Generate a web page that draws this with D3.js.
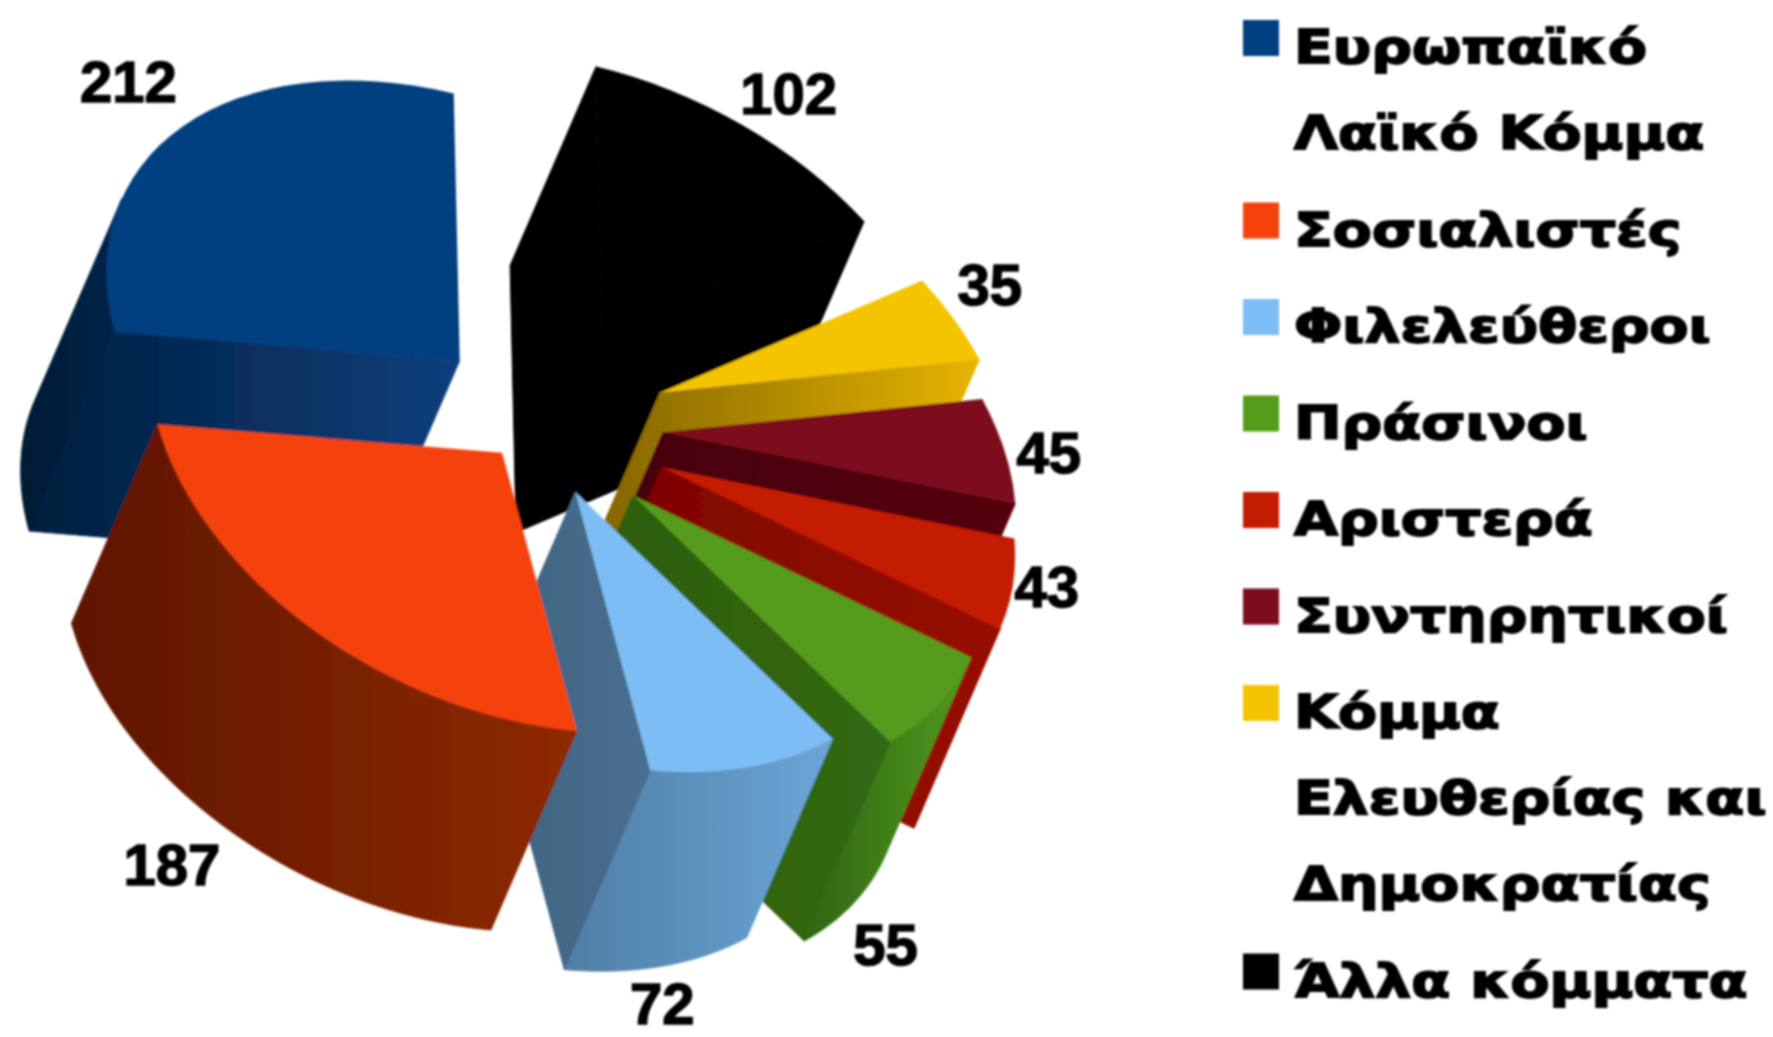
<!DOCTYPE html>
<html>
<head>
<meta charset="utf-8">
<script src="https://cdn.jsdelivr.net/npm/d3@7"></script>
<style>
  html, body { margin: 0; background: #fff; }
  svg { display: block; }
  .legend text { font-family: "DejaVu Sans"; font-weight: 700; font-size: 47px; fill: #000; stroke: #000; stroke-width: 1.8px; }
  .value { font-family: "Liberation Sans"; font-weight: 700; font-size: 58px; fill: #000; stroke: #000; stroke-width: 1.5px; text-anchor: middle; }
</style>
</head>
<body>
<svg id="chart" width="1773" height="1037"></svg>
<script>
// seats per group, clockwise from the top of the pie
const parties = ['Άλλα κόμματα', 'Κόμμα Ελευθερίας και Δημοκρατίας', 'Συντηρητικοί', 'Αριστερά', 'Πράσινοι', 'Φιλελεύθεροι', 'Σοσιαλιστές', 'Ευρωπαϊκό Λαϊκό Κόμμα'];
const seats = [102, 35, 45, 43, 55, 72, 187, 212];

// legend runs in its own order, with its own line breaks
const legendParties = ['Ευρωπαϊκό Λαϊκό Κόμμα', 'Σοσιαλιστές', 'Φιλελεύθεροι', 'Πράσινοι', 'Αριστερά', 'Συντηρητικοί', 'Κόμμα Ελευθερίας και Δημοκρατίας', 'Άλλα κόμματα'];
const legendLines = [['Ευρωπαϊκό', 'Λαϊκό Κόμμα'], ['Σοσιαλιστές'], ['Φιλελεύθεροι'], ['Πράσινοι'], ['Αριστερά'], ['Συντηρητικοί'], ['Κόμμα', 'Ελευθερίας και', 'Δημοκρατίας'], ['Άλλα κόμματα']];

const topColor = ['#000000', '#f5c400', '#7d0c1e', '#c41c05', '#549b1c', '#7dbdf5', '#f5420a', '#003f80'];
const cutColor = [['#000', '#000'], ['#7d6000', '#e6b400'], ['#47030f', '#55050f'], ['#7a0500', '#960b00'], ['#2c5a10', '#336a12'], ['#3f6280', '#4a6f90'], ['#6a1a00', '#8a2806'], ['#021f3e', '#0c3f7c']];
const rimColor = [['#000', '#000'], ['#d8a800', '#f0c000'], ['#6a0a1a', '#7d0c1e'], ['#a80e02', '#c41c05'], ['#2f6412', '#519a1e'], ['#4f7ea4', '#6ba6d8'], ['#5e1500', '#8e2a06'], ['#011a34', '#03264c']];

// how far each slice is pulled out of the centre, and how much its pull is turned (degrees)
const explode = [0.43, 0.411, 0.362, 0.356, 0.33, 0.256, 0.184, 0.27];
const explodeTurn = [1.5, 1, 2.5, 2.7, 5.3, 5, 1, -3.4];

// value labels: offset from the slice's rim midpoint
const labelGap = [[46, -11], [36, -14], [44, 22], [34, 21], [-53, 260], [-87, 257], [-140, 256], [-54, -25]];

// the pie is a flat disc sheared by these two axes, then pushed along `depth`
const center = [538, 421];
const axisX = [353, 84];
const axisY = [-6, -267];
const depth = [-86, 199];

const svg = d3.select('#chart');
const defs = svg.append('defs');
defs.append('filter').attr('id', 'soft')
  .append('feGaussianBlur').attr('stdDeviation', 0.9);

const root = svg.append('g').attr('filter', 'url(#soft)');

const arcs = d3.pie().value((d) => d).sort(null)(seats);
const line = d3.line();

function gradient(id, pair) {
  const g = defs.append('linearGradient').attr('id', id);
  g.append('stop').attr('offset', 0).attr('stop-color', pair[0]);
  g.append('stop').attr('offset', 1).attr('stop-color', pair[1]);
  return `url(#${id})`;
}

function sliceOrigin(a, i) {
  const mid = (a.startAngle + a.endAngle) / 2 + explodeTurn[i] * Math.PI / 180;
  return [
    center[0] + explode[i] * (Math.sin(mid) * axisX[0] + Math.cos(mid) * axisY[0]),
    center[1] + explode[i] * (Math.sin(mid) * axisX[1] + Math.cos(mid) * axisY[1]),
  ];
}

function rimPoint(o, angle) {
  return [
    o[0] + Math.sin(angle) * axisX[0] + Math.cos(angle) * axisY[0],
    o[1] + Math.sin(angle) * axisX[1] + Math.cos(angle) * axisY[1],
  ];
}

const pushed = (p) => [p[0] + depth[0], p[1] + depth[1]];

// a wall along edge p->q shows only if its outside looks along the depth direction
const facesDepth = (p, q) => (q[0] - p[0]) * depth[1] - (q[1] - p[1]) * depth[0] < 0;

// back to front: Ευρωπαϊκό Λαϊκό Κόμμα first, then clockwise
const drawOrder = [7, 0, 1, 2, 3, 4, 5, 6];

// draws the 3D slice: rim, visible cut walls, then the top face
drawOrder.forEach((i) => {
  const a = arcs[i];
  const o = sliceOrigin(a, i);
  const g = root.append('g');

  const rim = d3.range(0, 49).map((s) => rimPoint(o, a.startAngle + (a.endAngle - a.startAngle) * s / 48));
  // the visible part of the rim is one unbroken run of the arc
  const shown = d3.range(0, 48).filter((s) => facesDepth(rim[s], rim[s + 1]));
  if (shown.length) {
    const run = rim.slice(shown[0], shown[shown.length - 1] + 2);
    const rimFill = gradient(`rim${i}`, rimColor[i]);
    g.append('path')
      .attr('d', line(run.concat(run.map(pushed).reverse())) + 'Z')
      .attr('fill', rimFill)
      .attr('stroke', rimFill);
  }

  const cutFill = gradient(`cut${i}`, cutColor[i]);
  [[o, rim[0]], [rim[48], o]].forEach(([p, q]) => {
    if (!facesDepth(p, q)) return;
    g.append('path')
      .attr('d', line([p, q, pushed(q), pushed(p)]) + 'Z')
      .attr('fill', cutFill)
      .attr('stroke', cutFill);
  });

  g.append('path')
    .attr('d', d3.arc().innerRadius(0).outerRadius(100)(a))
    .attr('transform', `matrix(${axisX[0] / 100},${axisX[1] / 100},${-axisY[0] / 100},${-axisY[1] / 100},${o[0]},${o[1]})`)
    .attr('fill', topColor[i]);
});

// value labels
root.append('g').selectAll('text')
  .data(arcs)
  .enter()
  .append('text')
  .attr('class', 'value')
  .attr('x', (a, i) => rimPoint(sliceOrigin(a, i), (a.startAngle + a.endAngle) / 2)[0] + labelGap[i][0])
  .attr('y', (a, i) => rimPoint(sliceOrigin(a, i), (a.startAngle + a.endAngle) / 2)[1] + labelGap[i][1])
  .text((a) => a.data);

// legend
const legend = root.append('g').attr('class', 'legend');
let baseline = 63;
legendLines.forEach((lines, r) => {
  const i = parties.indexOf(legendParties[r]);
  legend.append('rect')
    .attr('x', 1243).attr('y', baseline - 43)
    .attr('width', 36).attr('height', 36)
    .attr('fill', topColor[i]);
  lines.forEach((t, n) => {
    legend.append('text')
      .attr('transform', `translate(1294,${baseline + n * 86}) scale(1.21,1)`)
      .text(t);
  });
  baseline += (lines.length - 1) * 86 + 96.5;
});
</script>
</body>
</html>
